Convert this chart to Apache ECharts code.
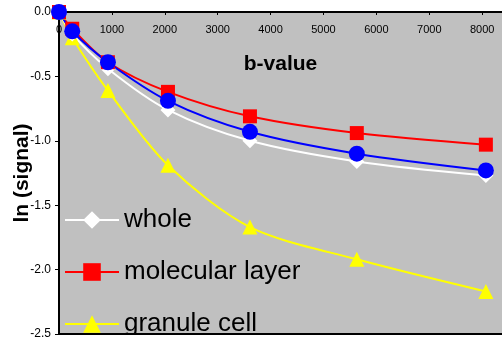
<!DOCTYPE html>
<html>
<head>
<meta charset="utf-8">
<script src="https://cdn.jsdelivr.net/npm/echarts@6/dist/echarts.min.js"></script>
<style>
  html, body { margin: 0; padding: 0; background: #fff; }
  #chart { width: 502px; height: 341px; }
</style>
</head>
<body>
<div id="chart"></div>
<script>
// b-values (s/mm2)
var bValues = [0, 250, 925, 2060, 3610, 5630, 8070];

var wholeData     = [0, -0.17, -0.44, -0.76, -1.0, -1.16, -1.27];
var molecularData = [0, -0.13, -0.39, -0.62, -0.81, -0.94, -1.03];
var granuleData   = [0, -0.20, -0.61, -1.19, -1.67, -1.92, -2.17];
var blueData      = [0, -0.15, -0.39, -0.69, -0.93, -1.10, -1.23];

var xTicks = [0, 1000, 2000, 3000, 4000, 5000, 6000, 7000, 8000];
var yTicks = [0, -0.5, -1.0, -1.5, -2.0, -2.5];
var legendNames = ['whole', 'molecular layer', 'granule cell'];

var font = 'Liberation Sans, Arial, sans-serif';

function pairs(xs, ys) {
    var out = [];
    for (var i = 0; i < xs.length; i++) out.push([xs[i], ys[i]]);
    return out;
}

// one legend box per entry so the last one can run off the plot bottom
var legendTops = [207, 259, 311];
var legends = legendNames.map(function (n, i) {
    return {
        orient: 'vertical',
        left: 64,
        top: legendTops[i],
        padding: 0,
        itemWidth: 54,
        itemHeight: 22,
        textStyle: { fontFamily: font, fontSize: 26, color: '#000' },
        data: [n]
    };
});

var chart = echarts.init(document.getElementById('chart'));

var option = {
    animation: false,
    backgroundColor: '#fff',
    grid: {
        left: 59, top: 12, right: 0, bottom: 7,
        outerBoundsMode: 'none',
        show: true,
        backgroundColor: '#c0c0c0',
        borderWidth: 0
    },
    legend: legends,
    xAxis: {
        type: 'value',
        position: 'top',
        min: 0,
        max: 8375,
        interval: 1000,
        name: 'b-value',
        nameLocation: 'middle',
        nameGap: -63,
        nameTextStyle: { fontFamily: font, fontSize: 21, fontWeight: 'bold', color: '#000' },
        axisLine: { show: true, lineStyle: { color: '#000', width: 2 } },
        axisTick: { show: true, inside: true, length: 3, lineStyle: { color: '#000' } },
        axisLabel: {
            inside: true, margin: 12, showMaxLabel: false,
            fontFamily: font, fontSize: 11, color: '#000',
            formatter: function (v) { return xTicks.indexOf(v) >= 0 ? String(v) : ''; }
        },
        splitLine: { show: false }
    },
    yAxis: {
        type: 'value',
        min: -2.5,
        max: 0,
        interval: 0.5,
        name: 'ln (signal)',
        nameLocation: 'middle',
        nameGap: 26,
        nameMoveOverlap: false,
        nameTextStyle: { fontFamily: font, fontSize: 21, fontWeight: 'bold', color: '#000' },
        axisLine: { show: true, lineStyle: { color: '#000', width: 2 } },
        axisTick: { show: true, length: 4, lineStyle: { color: '#000' } },
        axisLabel: {
            margin: 8, fontFamily: font, fontSize: 12, color: '#000',
            formatter: function (v) { return yTicks.indexOf(v) >= 0 ? v.toFixed(1) : ''; }
        },
        splitLine: { show: false }
    },
    graphic: [
        { type: 'rect', z: 100, shape: { x: 59, y: 335, width: 443, height: 6 }, style: { fill: '#fff' } },
        { type: 'rect', z: 101, shape: { x: 58, y: 333, width: 444, height: 2 }, style: { fill: '#000' } }
    ],
    series: [
        {
            name: 'granule cell', type: 'line', smooth: 0.3, clip: false,
            symbol: 'triangle', symbolSize: 15,
            lineStyle: { color: '#ffff00', width: 2 },
            itemStyle: { color: '#ffff00' },
            data: pairs(bValues, granuleData)
        },
        {
            name: 'whole', type: 'line', smooth: 0.3, clip: false,
            symbol: 'diamond', symbolSize: 15,
            lineStyle: { color: '#fff', width: 2 },
            itemStyle: { color: '#fff' },
            data: pairs(bValues, wholeData)
        },
        {
            name: 'molecular layer', type: 'line', smooth: 0.3, clip: false,
            symbol: 'rect', symbolSize: 14,
            lineStyle: { color: '#ff0000', width: 2 },
            itemStyle: { color: '#ff0000' },
            data: pairs(bValues, molecularData)
        },
        {
            name: 'blue', type: 'line', smooth: 0.3, clip: false,
            symbol: 'circle', symbolSize: 16,
            lineStyle: { color: '#0000ff', width: 2 },
            itemStyle: { color: '#0000ff' },
            data: pairs(bValues, blueData)
        }
    ]
};

chart.setOption(option);
</script>
</body>
</html>
